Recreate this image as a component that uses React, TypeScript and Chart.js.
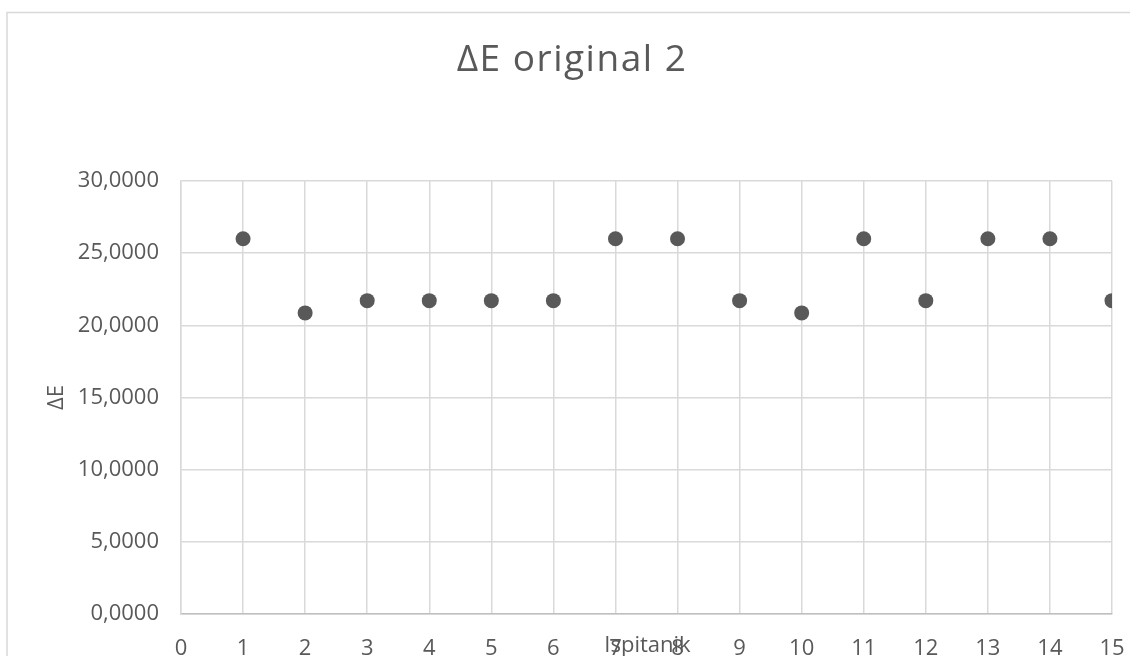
import React, { useEffect, useRef } from "react";
import { Chart, registerables } from "chart.js";

Chart.register(...registerables);

const chartTitle = "ΔE original 2";
const xAxisTitle = "Ispitanik";
const yAxisTitle = "ΔE";
const subjects = [1, 2, 3, 4, 5, 6, 7, 8, 9, 10, 11, 12, 13, 14, 15];
const deltaE = [26.0, 20.86, 21.71, 21.71, 21.71, 21.71, 26.0, 26.0, 21.71, 20.86, 26.0, 21.71, 26.0, 26.0, 21.71];
const xMin = 0;
const xMax = 15;
const yMin = 0;
const yMax = 30;
const yStep = 5;

const FONT = "'Open Sans', 'Noto Sans', sans-serif";
const TEXT = "#595959";
const GRID = "#d9d9d9";

const decorPlugin = {
  id: "decor",
  beforeDraw(chart: any) {
    const ctx = chart.ctx;
    ctx.save();
    ctx.fillStyle = "#ffffff";
    ctx.fillRect(0, 0, chart.width, chart.height);
    ctx.strokeStyle = GRID;
    ctx.lineWidth = 1.5;
    ctx.beginPath();
    ctx.moveTo(7, chart.height + 5);
    ctx.lineTo(7, 12.5);
    ctx.lineTo(chart.width + 5, 12.5);
    ctx.stroke();
    ctx.restore();
  },
  afterDraw(chart: any) {
    const ctx = chart.ctx;
    const area = chart.chartArea;
    ctx.save();
    ctx.fillStyle = TEXT;
    ctx.textAlign = "center";
    ctx.textBaseline = "middle";
    ctx.font = `37px ${FONT}`;
    (ctx as any).letterSpacing = "1.5px";
    ctx.fillText(chartTitle, 572, 60);
    (ctx as any).letterSpacing = "0px";
    ctx.font = `22px ${FONT}`;
    ctx.fillText(xAxisTitle, (area.left + area.right) / 2 + 1, 646);
    ctx.translate(57, (area.top + area.bottom) / 2);
    ctx.rotate(-Math.PI / 2);
    ctx.fillText(yAxisTitle, 0, 0);
    ctx.restore();
  },
};

export default function App() {
  const canvasRef = useRef<HTMLCanvasElement | null>(null);

  useEffect(() => {
    if (!canvasRef.current) return;
    const chart = new Chart(canvasRef.current, {
      type: "scatter",
      data: {
        datasets: [
          {
            label: chartTitle,
            data: subjects.map((s, i) => ({ x: s, y: deltaE[i] })),
            backgroundColor: "#595959",
            borderColor: "#595959",
            pointRadius: 7.5,
            pointHoverRadius: 7.5,
            borderWidth: 0,
          },
        ],
      },
      options: {
        animation: false,
        responsive: true,
        maintainAspectRatio: false,
        layout: { padding: { left: 0, top: 181, right: 18, bottom: 0 } },
        plugins: {
          legend: { display: false },
          title: { display: false },
          tooltip: { enabled: false },
        },
        scales: {
          x: {
            type: "linear",
            min: xMin,
            max: xMax,
            afterFit: (scale: any) => {
              scale.height = 42;
              scale.paddingLeft = 0;
              scale.paddingRight = 0;
            },
            ticks: {
              stepSize: 1,
              color: TEXT,
              padding: 22,
              font: { family: FONT, size: 22 },
              maxRotation: 0,
              autoSkip: false,
            },
            grid: { color: GRID, lineWidth: 1.5, drawTicks: false },
            border: { color: "#bfbfbf", width: 1.5 },
          },
          y: {
            min: yMin,
            max: yMax,
            afterFit: (scale: any) => {
              scale.width = 181;
              scale.paddingTop = 0;
              scale.paddingBottom = 0;
            },
            ticks: {
              stepSize: yStep,
              color: TEXT,
              padding: 22,
              font: { family: FONT, size: 22 },
              callback: (v: any) => Number(v).toFixed(4).replace(".", ","),
            },
            grid: { color: GRID, lineWidth: 1.5, drawTicks: false },
            border: { color: GRID, width: 1.5 },
          },
        },
      },
      plugins: [decorPlugin],
    });
    return () => chart.destroy();
  }, []);

  return (
    <div style={{ position: "fixed", left: 0, top: 0, width: 1130, height: 656, background: "#fff" }}>
      <canvas ref={canvasRef} />
    </div>
  );
}
